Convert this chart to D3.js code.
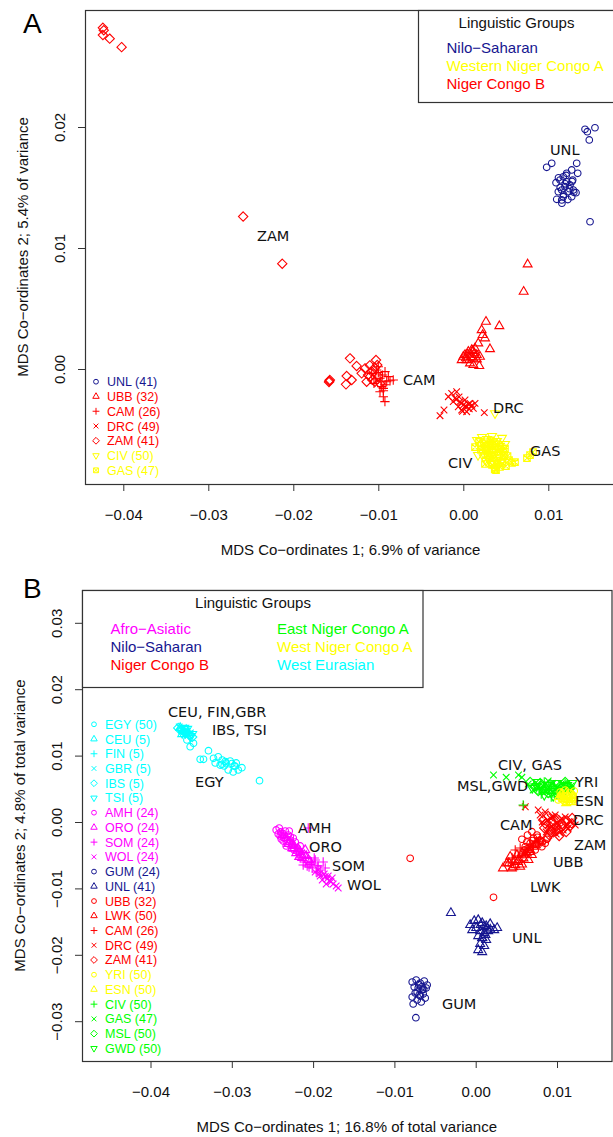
<!DOCTYPE html>
<html><head><meta charset="utf-8">
<script src="https://cdn.jsdelivr.net/npm/d3@7"></script>
<style>body{margin:0;background:#fff}svg{display:block}</style>
</head><body>
<svg id="chart" width="613" height="1137"></svg>
<script>
// ===== Panel A: MDS of African samples (coordinates 1, 2) =====
const ticksAx = [-0.04, -0.03, -0.02, -0.01, 0.00, 0.01];
const ticksAy = [0.00, 0.01, 0.02];
const popsA   = ["UNL", "UBB", "CAM", "DRC", "ZAM", "CIV", "GAS"];
const countsA = [41, 32, 26, 49, 41, 50, 47];
const groupsA = ["Nilo−Saharan", "Western Niger Congo A", "Niger Congo B"];

const unlA = [[0.01432,0.01981],[0.01459,0.01961],[0.01549,0.01994],[0.01482,0.01893],[0.01491,0.01217],
  [0.00981,0.01667],[0.0104,0.017],[0.01334,0.017],[0.01346,0.01617],[0.01275,0.01645],[0.01091,0.0154],
  [0.01138,0.01562],[0.01176,0.01589],[0.01216,0.01548],[0.01255,0.01521],[0.01196,0.01507],[0.01158,0.01479],
  [0.01118,0.01465],[0.01235,0.01465],[0.01294,0.01479],[0.01326,0.01457],[0.01275,0.01424],[0.01176,0.01424],
  [0.01099,0.01402],[0.01158,0.01397],[0.01216,0.01617],[0.01287,0.01562],
  [0.0114,0.015],[0.012,0.0153],[0.0125,0.0149],[0.0118,0.0144],[0.0123,0.014],[0.0112,0.0158],
  [0.0128,0.0155],[0.0121,0.016],[0.0116,0.0137],[0.013,0.0146]];
const ubbA = [[0.00757,0.00865],[0.0071,0.00639],[0.00267,0.00391],[0.00424,0.00355],[0.00216,0.00322],
  [0.00255,0.00254],[0.00228,0.00281],[0.00314,0.00165],[0.00188,0.00025],[0.0,0.00102],[0.00059,0.00143],
  [0.00099,0.00157],[0.00138,0.00171],[0.0004,0.00074],[0.00118,0.00088],[0.00158,0.00116],[-0.00019,0.00074],
  [0.00079,0.00047],[0.00196,0.00102],[0.00176,0.00212],[0.00118,0.00033],[0.0002,0.00116],[0.0013,0.0013],[0.0009,0.001],
  [0.0005,0.0012],[0.0011,0.0015],[0.0016,0.0008],[0.0003,0.0009]];
const camA = [[-0.00922,-0.0027],[-0.00862,-0.00097],[-0.0096,-0.00146],[-0.0098,-0.00188],[-0.00941,-0.00229],
  [-0.01019,-0.00008],[-0.00921,-0.00022],[-0.00882,-0.00063],[-0.01078,-0.00036],[-0.0098,-0.00077],
  [-0.01051,-0.00119],[-0.00901,-0.00105],[-0.01,0.00019],[-0.00941,-0.0016],[-0.00824,-0.00091],
  [-0.0095,-0.0005],[-0.0103,-0.0008],[-0.0097,-0.001],[-0.0092,-0.0013],[-0.01,-0.0003],[-0.0094,-0.0018]];
const drcA = [[-0.00274,-0.00386],[-0.00227,-0.00339],[-0.00137,-0.00201],[-0.00078,-0.00188],[-0.00098,-0.00242],
  [-0.00039,-0.0027],[0,-0.00298],[0.0004,-0.00312],[0.00079,-0.00284],[0.00118,-0.00325],[-0.00059,-0.00312],
  [-0.00019,-0.00339],[0.0004,-0.00353],[0.00138,-0.00284],[0.00247,-0.00361],[-0.00118,-0.0027],
  [-0.00176,-0.00229],[0.0002,-0.00256],[-0.0005,-0.0023],[0.0006,-0.0029],
  [-0.0003,-0.0028],[0.0002,-0.0031],[0.0007,-0.0033],[-0.0008,-0.0025],[0.001,-0.003],[-0.0001,-0.0035]];
const zamA = [[-0.0424,0.0282],[-0.0423,0.028],[-0.0424,0.0276],[-0.0416,0.0273],[-0.0402,0.0266],
  [-0.0259,0.0126],[-0.0213,0.0087],
  [-0.01576,-0.00099],[-0.0157,-0.00091],[-0.0158,-0.00107],[-0.01333,0.00088],[-0.01372,-0.00058],
  [-0.0138,-0.00127],[-0.01313,-0.00091],[-0.01255,0.00025],[-0.01196,-0.00036],[-0.01157,0.00005],
  [-0.01027,0.00074],[-0.01098,-0.00063],[-0.01039,-0.00105],[-0.0098,-0.00119],[-0.01137,-0.00105],
  [-0.01012,0.00033],[-0.0108,-0.0002],[-0.0104,0.0001],[-0.01,-0.0006],[-0.0112,-0.0005],
  [-0.0107,-0.0009],[-0.011,0.0003]];
const civA = [[0.00161,-0.00587],[0.0022,-0.00562],[0.00279,-0.00579],[0.00338,-0.00554],[0.00396,-0.00595],
  [0.00455,-0.0057],[0.00196,-0.00628],[0.00255,-0.00653],[0.00314,-0.0062],[0.00373,-0.00645],[0.00432,-0.00636],
  [0.00491,-0.0062],[0.00232,-0.00694],[0.00291,-0.00719],[0.00349,-0.00686],[0.00408,-0.00711],[0.00467,-0.00678],
  [0.00267,-0.0076],[0.00326,-0.00777],[0.00385,-0.00752],[0.00444,-0.00769],[0.00361,-0.00818],[0.00173,-0.00711],
  [0.00373,-0.00366],
  [0.0025,-0.006],[0.003,-0.0063],[0.0035,-0.006],[0.004,-0.0066],[0.0045,-0.0065],[0.0028,-0.0068],
  [0.0033,-0.0071],[0.0038,-0.0068],[0.0043,-0.0073],[0.003,-0.0075],[0.0036,-0.0078],[0.0041,-0.008],
  [0.0047,-0.0071],[0.0024,-0.0073]];
const gasA = [[0.00138,-0.00645],[0.00185,-0.00603],[0.00244,-0.0062],[0.00302,-0.00669],[0.00361,-0.00612],
  [0.0042,-0.00661],[0.00479,-0.00711],[0.00538,-0.00752],[0.00573,-0.00777],[0.00502,-0.00802],[0.00432,-0.0081],
  [0.00314,-0.00736],[0.00255,-0.00785],[0.00608,-0.00769],[0.00749,-0.00736],[0.00785,-0.00711],[0.0082,-0.00686],
  [0.00385,-0.00835],[0.00208,-0.00669],[0.00338,-0.00793],
  [0.0027,-0.0064],[0.0032,-0.0059],[0.0039,-0.0062],[0.0044,-0.0069],[0.0035,-0.0073],[0.004,-0.0076],
  [0.0046,-0.0078],[0.0052,-0.0072],[0.0029,-0.0071],[0.0034,-0.0067],[0.0049,-0.0066],[0.0037,-0.0083]];

// ===== Panel B: MDS of African and West Eurasian samples =====
const ticksBx = [-0.04, -0.03, -0.02, -0.01, 0.00, 0.01];
const ticksBy = [-0.03, -0.02, -0.01, 0.00, 0.01, 0.02, 0.03];
const popsB   = ["EGY","CEU","FIN","GBR","IBS","TSI","AMH","ORO","SOM","WOL","GUM","UNL",
                 "UBB","LWK","CAM","DRC","ZAM","YRI","ESN","CIV","GAS","MSL","GWD"];
const countsB = [50,5,5,5,5,5,24,24,24,24,24,41,32,50,26,49,41,50,50,50,47,50,50];
const groupsB = ["Afro−Asiatic","Nilo−Saharan","Niger Congo B","East Niger Congo A","West Niger Congo A","West Eurasian"];

const egyB = [[-0.03552,0.01235],[-0.03512,0.01134],[-0.03471,0.01185],[-0.03287,0.01074],[-0.03389,0.00944],
  [-0.03348,0.00944],[-0.03225,0.00959],[-0.03167,0.00983],[-0.03118,0.00934],[-0.0307,0.00889],[-0.0302,0.00919],
  [-0.03204,0.00889],[-0.03094,0.00843],[-0.0297,0.00843],[-0.02921,0.00783],[-0.02876,0.00818],[-0.03044,0.00783],
  [-0.02983,0.00753],[-0.03143,0.00858],[-0.02659,0.00622],[-0.02946,0.00889],
  [-0.0308,0.0091],[-0.03,0.0088],[-0.0312,0.0087],[-0.0296,0.0084]];
const ceuB = [[-0.03635,0.01416],[-0.03598,0.0137],[-0.03561,0.01386],[-0.0361,0.01325],[-0.03536,0.0134]];
const finB = [[-0.03622,0.01401],[-0.03585,0.01355],[-0.03549,0.0137],[-0.03573,0.01325],[-0.03524,0.01355]];
const gbrB = [[-0.03647,0.01431],[-0.03598,0.01401],[-0.03561,0.01355],[-0.03536,0.0131],[-0.0351,0.0134]];
const ibsB = [[-0.03659,0.01416],[-0.0361,0.01386],[-0.03573,0.0134],[-0.03524,0.0131],[-0.03487,0.0128]];
const tsiB = [[-0.03585,0.01416],[-0.03549,0.01401],[-0.0361,0.0134],[-0.03512,0.01295],[-0.03487,0.01325]];
const amhB = [[-0.02454,-0.0012],[-0.02417,-0.0009],[-0.0238,-0.00166],[-0.02343,-0.00136],[-0.02405,-0.00211],
  [-0.02356,-0.00241],[-0.02306,-0.00196],[-0.02282,-0.00271],[-0.02319,-0.00316],[-0.02257,-0.00346],
  [-0.0222,-0.00301],[-0.02368,-0.00286],[-0.02429,-0.00181],[-0.02294,-0.00136],[-0.02245,-0.00241],
  [-0.02196,-0.00392],[-0.02159,-0.00361],[-0.02331,-0.00361],[-0.02392,-0.00256],[-0.02233,-0.00422],
  [-0.0236,-0.002],[-0.0228,-0.0022],[-0.0232,-0.0026],[-0.024,-0.0015]];
const oroB = [[-0.0238,-0.00196],[-0.02331,-0.00241],[-0.02282,-0.00301],[-0.02233,-0.00361],[-0.02183,-0.00407],
  [-0.02159,-0.00452],[-0.0211,-0.00497],[-0.02208,-0.00467],[-0.02257,-0.00392],[-0.02134,-0.00542],
  [-0.02085,-0.00512],[-0.02306,-0.00331],[-0.0206,-0.00572],[-0.02171,-0.00527],[-0.02097,-0.00422],[-0.02036,-0.00602],
  [-0.0226,-0.0034],[-0.0219,-0.0043],[-0.0214,-0.0049],[-0.0224,-0.004]];
const somB = [[-0.0206,-0.0009],[-0.02159,-0.00542],[-0.02097,-0.00602],[-0.02036,-0.00633],[-0.01974,-0.00572],
  [-0.01937,-0.00663],[-0.01876,-0.00602],[-0.02011,-0.00693],[-0.01913,-0.00723],[-0.02073,-0.00663],
  [-0.01962,-0.00753],[-0.02122,-0.00648],[-0.01851,-0.00693],[-0.01986,-0.00542],
  [-0.0202,-0.006],[-0.0195,-0.0066],[-0.0205,-0.0068]];
const wolB = [[-0.01974,-0.00753],[-0.01913,-0.00813],[-0.01863,-0.00783],[-0.01827,-0.00858],[-0.0179,-0.00889],
  [-0.01753,-0.00934],[-0.01716,-0.00964],[-0.01814,-0.00813],[-0.01888,-0.00873],[-0.01937,-0.00723],
  [-0.01765,-0.00843],[-0.01691,-0.00994],[-0.01839,-0.00934],[-0.0185,-0.0082],[-0.0178,-0.009],[-0.0192,-0.0078]];
const gumB = [[-0.00781,-0.0241],[-0.00732,-0.0238],[-0.00683,-0.02425],[-0.00633,-0.02395],[-0.00597,-0.02455],
  [-0.00756,-0.02485],[-0.00707,-0.025],[-0.00658,-0.0253],[-0.00609,-0.025],[-0.00744,-0.02575],[-0.00695,-0.02605],
  [-0.00646,-0.0259],[-0.00781,-0.02636],[-0.0072,-0.02681],[-0.0067,-0.02711],[-0.00769,-0.02741],
  [-0.00621,-0.02651],[-0.00736,-0.02947],
  [-0.007,-0.0245],[-0.0066,-0.0248],[-0.0072,-0.0256],[-0.0068,-0.0262],[-0.0064,-0.0252]];
const unlB = [[-0.00068,-0.01551],[-0.00018,-0.01491],[0.00031,-0.01476],[0.0008,-0.01521],[0.00129,-0.01566],
  [0.00178,-0.01536],[0.00228,-0.01627],[0.00264,-0.01596],[-0.00043,-0.01627],[0.00006,-0.01596],[0.00055,-0.01642],
  [0.00105,-0.01672],[0.00154,-0.01642],[0.00031,-0.01717],[0.0008,-0.01747],[0.00129,-0.01777],[0.00055,-0.01837],
  [0.00105,-0.01867],[0.00031,-0.01928],[0.0008,-0.01958],[-0.00305,-0.0137],
  [0.001,-0.0158],[0.0014,-0.016],[0.0006,-0.0155],[0.0012,-0.017],[0.0018,-0.0162],[0.0008,-0.0175]];
const ubbB = [[-0.00806,-0.00547],[0.00219,-0.01134],[0.00568,-0.0026],[0.00637,-0.00196],[0.00711,-0.00245],
  [0.00793,-0.00271],[0.00855,-0.00321],[0.00753,-0.00196],[0.0067,-0.00321],[0.00609,-0.00372],[0.00814,-0.00372],
  [0.00876,-0.0026],[0.00732,-0.00422],[0.00691,-0.00146],
  [0.0063,-0.003],[0.007,-0.0028],[0.0076,-0.0023],[0.0082,-0.003],[0.0066,-0.0038],[0.0073,-0.0033],[0.006,-0.0042]];
const lwkB = [[0.00335,-0.00697],[0.00384,-0.00622],[0.00424,-0.00522],[0.00486,-0.00648],[0.00547,-0.00673],
  [0.00445,-0.00697],[0.00526,-0.00572],[0.00588,-0.00547],[0.0063,-0.00471],[0.0067,-0.00422],[0.00711,-0.00372],
  [0.00753,-0.00321],[0.00793,-0.00296],[0.00691,-0.00497],[0.00649,-0.00572],[0.00568,-0.00471],[0.00507,-0.00497],
  [0.0041,-0.0062],[0.0052,-0.006],[0.006,-0.005],[0.0066,-0.0045],[0.0074,-0.0035],[0.0048,-0.0058],
  [0.0057,-0.0064],[0.0046,-0.0068]];
const camB = [[0.00588,0.00245],[0.00486,-0.00422],[0.00547,-0.00392],[0.00609,-0.00452],[0.0067,-0.00346],
  [0.00732,-0.00301],[0.00449,-0.00542],[0.00523,-0.00512],[0.00646,-0.00392],[0.00793,-0.00241],[0.004,-0.00602],
  [0.0058,-0.0048],[0.0064,-0.0042],[0.0071,-0.0038],[0.0077,-0.0029]];
const drcB = [[0.00793,0.00105],[0.00855,0.00151],[0.00916,0.0006],[0.00978,0.00105],[0.01039,0.0003],
  [0.01101,0.00075],[0.01162,0],[0.00892,-0.00045],[0.00953,-0.0009],[0.01015,-0.0006],[0.01076,-0.0012],
  [0.00818,0],[0.01138,-0.0009],[0.01224,-0.00045],[0.00867,-0.00151],[0.0099,-0.00181],[0.00769,0.00181],[0.0061,0.0023],
  [0.0088,0.0003],[0.0094,0.0008],[0.01,-0.0002],[0.0106,0.0005],[0.0112,-0.0004],[0.0097,-0.0012],
  [0.0103,-0.0016],[0.0091,-0.0009]];
const zamB = [[0.0083,0.0003],[0.00892,0.0009],[0.00941,0],[0.01002,0.00045],[0.01064,-0.0003],[0.01125,0.00015],
  [0.01187,0.0006],[0.00929,-0.0012],[0.0099,-0.00136],[0.01052,-0.00075],[0.01113,-0.00151],[0.00843,-0.0009],
  [0.01027,-0.00211],[0.01162,-0.0006],[0.00904,-0.00196],[0.00879,-0.00241],
  [0.0086,-0.0003],[0.0096,0.0002],[0.0108,-0.001],[0.0118,-0.0002],[0.0099,-0.0006],[0.0093,-0.0015]];
const yriB = [[0.01039,0.00452],[0.01101,0.00482],[0.01162,0.00437],[0.01212,0.00467],[0.01064,0.00377],
  [0.01125,0.00392],[0.01187,0.00361],[0.01015,0.00331],[0.01089,0.00316],[0.0115,0.00301],[0.01199,0.00331],
  [0.0108,0.004],[0.0115,0.0035],[0.012,0.004],[0.011,0.0031],[0.0105,0.0036]];
const esnB = [[0.01052,0.00422],[0.01113,0.00437],[0.01175,0.00407],[0.01076,0.00346],[0.01138,0.00331],
  [0.01199,0.00392],[0.01027,0.00377],[0.01113,0.00286],[0.01175,0.00301],
  [0.0112,0.0039],[0.0118,0.0034],[0.0106,0.0041],[0.0121,0.0036]];
const civB = [[0.00584,0.00256],[0.0072,0.00572],[0.00781,0.00497],[0.00843,0.00602],[0.00904,0.00482],
  [0.00966,0.00542],[0.01027,0.00452],[0.01089,0.00512],[0.0115,0.00467],[0.00806,0.00422],[0.00929,0.00377],
  [0.009,0.0057],[0.01,0.005],[0.011,0.0058],[0.0078,0.005]];
const gasB = [[0.00219,0.00708],[0.00375,0.00673],[0.00526,0.00708],[0.00568,0.00673],[0.00646,0.00572],
  [0.00707,0.00482],[0.0083,0.00542],[0.00892,0.00617],[0.0099,0.00512],[0.01052,0.00572],[0.01113,0.00482],[0.01175,0.00542],
  [0.0095,0.0058],[0.0104,0.0042],[0.0117,0.005],[0.0086,0.0046]];
const mslB = [[0.0067,0.00602],[0.00732,0.00542],[0.00793,0.00587],[0.00855,0.00512],[0.00916,0.00572],
  [0.00978,0.00482],[0.01039,0.00542],[0.01101,0.00602],[0.01162,0.00512],[0.00769,0.00467],[0.00892,0.00437],[0.01015,0.00407],
  [0.0085,0.0048],[0.0095,0.0052],[0.0105,0.0047],[0.0112,0.0055],[0.008,0.0055]];
const gwdB = [[0.00695,0.00512],[0.00756,0.00602],[0.00818,0.00482],[0.00879,0.00557],[0.00941,0.00467],
  [0.01002,0.00587],[0.01064,0.00482],[0.01125,0.00557],[0.01187,0.00587],[0.00843,0.00407],[0.00953,0.00392],[0.01076,0.00422],
  [0.0088,0.005],[0.0098,0.0044],[0.0108,0.0052],[0.0115,0.0049],[0.0075,0.0054]];

// ===== drawing =====
const C = {navy:"#161690", yellow:"#ffff00", red:"#ff0000", magenta:"#ff00ff", green:"#00ff00", cyan:"#00ffff"};
const SANS = "'Liberation Sans', Arial, Helvetica, sans-serif";
const LABF = "'DejaVu Sans', Verdana, sans-serif";

// R-style plotting symbols, r = nominal circle radius
function symbolPath(type, r) {
  const t = 1.555 * r, b = 0.778 * r, w = 1.347 * r, a = 1.414 * r;
  switch (type) {
    case "circle":  return `M${-r},0A${r},${r} 0 1,0 ${r},0A${r},${r} 0 1,0 ${-r},0Z`;
    case "tri":     return `M0,${-t}L${w},${b}L${-w},${b}Z`;
    case "tridown": return `M0,${t}L${w},${-b}L${-w},${-b}Z`;
    case "plus":    return `M${-a},0H${a}M0,${-a}V${a}`;
    case "cross":   return `M${-r},${-r}L${r},${r}M${-r},${r}L${r},${-r}`;
    case "diamond": return `M0,${-a}L${a},0L0,${a}L${-a},0Z`;
    case "boxx":    return `M${-r},${-r}H${r}V${r}H${-r}ZM${-r},${-r}L${r},${r}M${-r},${r}L${r},${-r}`;
  }
}

const svg = d3.select("#chart");
svg.append("rect").attr("width", 613).attr("height", 1137).attr("fill", "#fff");

function drawPanel(cfg) {
  const g = svg.append("g");
  const x = d3.scaleLinear().domain(cfg.xAnchor).range(cfg.xRange);
  const y = d3.scaleLinear().domain(cfg.yAnchor).range(cfg.yRange);
  const fr = cfg.frame;
  const fmt = d3.format(".2f");

  // bottom axis
  const ax = g.append("g").attr("transform", `translate(0,${fr.bottom})`)
    .call(d3.axisBottom(x).tickValues(cfg.xTicks).tickSize(7).tickSizeOuter(0).tickFormat(fmt));
  ax.select(".domain").remove();
  ax.selectAll("line").attr("stroke", "#333");
  ax.selectAll("text").attr("y", 0).attr("dy", null).attr("transform", `translate(0,${cfg.xLabBase})`)
    .attr("font-family", SANS).attr("font-size", 15).attr("fill", "#111");

  // left axis, labels parallel to the axis
  const ay = g.append("g").attr("transform", `translate(${fr.left},0)`)
    .call(d3.axisLeft(y).tickValues(cfg.yTicks).tickSize(7).tickSizeOuter(0).tickFormat(fmt));
  ay.select(".domain").remove();
  ay.selectAll("line").attr("stroke", "#333");
  ay.selectAll("text").attr("x", 0).attr("dy", null).attr("y", 0)
    .attr("transform", "translate(-20,0) rotate(-90)").attr("text-anchor", "middle")
    .attr("font-family", SANS).attr("font-size", 15).attr("fill", "#111");

  // axis titles
  g.append("text").attr("x", (fr.left + fr.right) / 2).attr("y", cfg.xTitleBase)
    .attr("text-anchor", "middle").attr("font-family", SANS).attr("font-size", 15).attr("fill", "#111")
    .text(cfg.xTitle);
  g.append("text").attr("transform", `translate(${cfg.yTitleBase},${(fr.top + fr.bottom) / 2}) rotate(-90)`)
    .attr("text-anchor", "middle").attr("font-family", SANS).attr("font-size", 15).attr("fill", "#111")
    .text(cfg.yTitle);

  // panel letter
  g.append("text").attr("x", cfg.letterPos[0]).attr("y", cfg.letterPos[1])
    .attr("font-family", SANS).attr("font-size", 28).attr("fill", "#000").text(cfg.letter);

  // points
  const clipId = "clip" + cfg.letter;
  svg.append("clipPath").attr("id", clipId).append("rect")
    .attr("x", fr.left).attr("y", fr.top).attr("width", fr.right - fr.left).attr("height", fr.bottom - fr.top);
  const pts = g.append("g").attr("clip-path", `url(#${clipId})`);
  cfg.series.forEach(s => {
    pts.append("g").selectAll("path").data(s.values).join("path")
      .attr("transform", d => `translate(${x(d[0])},${y(d[1])})`)
      .attr("d", symbolPath(s.shape, 3.3))
      .attr("fill", "none").attr("stroke", s.color).attr("stroke-width", 1.1);
  });

  // population labels
  cfg.labels.forEach(l => {
    g.append("text").attr("x", l[1]).attr("y", l[2]).attr("font-family", LABF)
      .attr("font-size", 14.5).attr("fill", "#111").text(l[0]);
  });

  // frame
  g.append("rect").attr("x", fr.left + 0.5).attr("y", fr.top + 0.5)
    .attr("width", fr.right - fr.left).attr("height", fr.bottom - fr.top)
    .attr("fill", "none").attr("stroke", "#333").attr("stroke-width", 1.2);

  // group legend box
  const lb = cfg.groupBox;
  g.append("rect").attr("x", lb.x + 0.5).attr("y", lb.y + 0.5).attr("width", lb.w).attr("height", lb.h)
    .attr("fill", "#fff").attr("stroke", "#333").attr("stroke-width", 1.2);
  g.append("text").attr("x", lb.titleX).attr("y", lb.titleY).attr("text-anchor", "middle")
    .attr("font-family", SANS).attr("font-size", 15).attr("fill", "#111").text("Linguistic Groups");
  cfg.groupItems.forEach(it => {
    g.append("text").attr("x", it.x).attr("y", it.y).attr("font-family", SANS)
      .attr("font-size", 15).attr("fill", it.color).text(it.name);
  });

  // population legend (left)
  const pl = cfg.popLegend;
  cfg.series.slice().sort((a, b) => a.order - b.order).forEach((s, i) => {
    const cy = pl.y0 + i * pl.step;
    g.append("path").attr("transform", `translate(${pl.symX},${cy})`).attr("d", symbolPath(s.shape, 2.4))
      .attr("fill", "none").attr("stroke", s.color).attr("stroke-width", 1);
    g.append("text").attr("x", pl.textX).attr("y", cy + 4.5).attr("font-family", SANS)
      .attr("font-size", 12.5).attr("fill", s.color).text(`${s.name} (${s.count})`);
  });
}

// ---- Panel A ----
const valsA = [unlA, ubbA, camA, drcA, zamA, civA, gasA];
const shapesA = ["circle", "tri", "plus", "cross", "diamond", "tridown", "boxx"];
const colorsA = [C.navy, C.red, C.red, C.red, C.red, C.yellow, C.yellow];
drawPanel({
  letter: "A", letterPos: [23, 33],
  frame: {left: 85, top: 10, right: 616, bottom: 484},
  xAnchor: [-0.04, 0.01], xRange: [123.3, 548.3],
  yAnchor: [0, 0.02], yRange: [369, 127],
  xTicks: ticksAx, yTicks: ticksAy,
  xLabBase: 36, xTitleBase: 555, yTitleBase: 27.5,
  xTitle: "MDS Co−ordinates 1; 6.9% of variance",
  yTitle: "MDS Co−ordinates 2; 5.4% of variance",
  series: popsA.map((p, i) => ({name: p, count: countsA[i], values: valsA[i], shape: shapesA[i], color: colorsA[i], order: i})),
  labels: [["UNL", 550, 155], ["ZAM", 257, 240.5], ["CAM", 403, 385], ["DRC", 493, 413],
           ["GAS", 530, 455.5], ["CIV", 448, 468]],
  groupBox: {x: 418, y: 10, w: 210, h: 92, titleX: 516.5, titleY: 28},
  groupItems: [
    {name: groupsA[0], color: C.navy,   x: 446.5, y: 53},
    {name: groupsA[1], color: C.yellow, x: 446.5, y: 71},
    {name: groupsA[2], color: C.red,    x: 446.5, y: 89}],
  popLegend: {symX: 96, textX: 107, y0: 381.7, step: 14.77}
});

// ---- Panel B ----
const valsB = [egyB, ceuB, finB, gbrB, ibsB, tsiB, amhB, oroB, somB, wolB, gumB, unlB,
               ubbB, lwkB, camB, drcB, zamB, yriB, esnB, civB, gasB, mslB, gwdB];
const shapesB = ["circle","tri","plus","cross","diamond","tridown","circle","tri","plus","cross","circle","tri",
                 "circle","tri","plus","cross","diamond","circle","tri","plus","cross","diamond","tridown"];
const colorsB = [C.cyan,C.cyan,C.cyan,C.cyan,C.cyan,C.cyan,C.magenta,C.magenta,C.magenta,C.magenta,C.navy,C.navy,
                 C.red,C.red,C.red,C.red,C.red,C.yellow,C.yellow,C.green,C.green,C.green,C.green];
const seriesB = popsB.map((p, i) => ({name: p, count: countsB[i], values: valsB[i], shape: shapesB[i], color: colorsB[i], order: i}));
// West Niger Congo A plotted last so it stays visible over the East Niger Congo A band
const drawOrderB = seriesB.filter(s => s.color !== C.yellow).concat(seriesB.filter(s => s.color === C.yellow));
drawPanel({
  letter: "B", letterPos: [23, 598],
  frame: {left: 82, top: 590, right: 611.5, bottom: 1061},
  xAnchor: [-0.04, 0.01], xRange: [150.5, 557],
  yAnchor: [-0.03, 0.03], yRange: [1021.2, 622.8],
  xTicks: ticksBx, yTicks: ticksBy,
  xLabBase: 36, xTitleBase: 1132, yTitleBase: 24.5,
  xTitle: "MDS Co−ordinates 1; 16.8% of total variance",
  yTitle: "MDS Co−ordinates 2; 4.8% of total variance",
  series: drawOrderB,
  labels: [["CEU, FIN,GBR", 168, 717], ["IBS, TSI", 212, 735], ["EGY", 195, 787],
           ["AMH", 298, 833], ["ORO", 309, 852], ["SOM", 332, 871], ["WOL", 347, 890],
           ["GUM", 442, 1009], ["UNL", 512, 943],
           ["CIV, GAS", 498, 770], ["YRI", 575, 787], ["MSL,GWD", 457, 791], ["ESN", 575, 806],
           ["DRC", 573, 825], ["CAM", 500, 830], ["ZAM", 574, 850], ["UBB", 553, 867], ["LWK", 530, 892]],
  groupBox: {x: 82, y: 590, w: 340.5, h: 97, titleX: 253, titleY: 608},
  groupItems: [
    {name: groupsB[0], color: C.magenta, x: 110.5, y: 634},
    {name: groupsB[1], color: C.navy,    x: 110.5, y: 652},
    {name: groupsB[2], color: C.red,     x: 110.5, y: 670},
    {name: groupsB[3], color: C.green,   x: 277,   y: 634},
    {name: groupsB[4], color: C.yellow,  x: 277,   y: 652},
    {name: groupsB[5], color: C.cyan,    x: 277,   y: 670}],
  popLegend: {symX: 94, textX: 105, y0: 724.3, step: 14.73}
});
</script>
</body></html>
